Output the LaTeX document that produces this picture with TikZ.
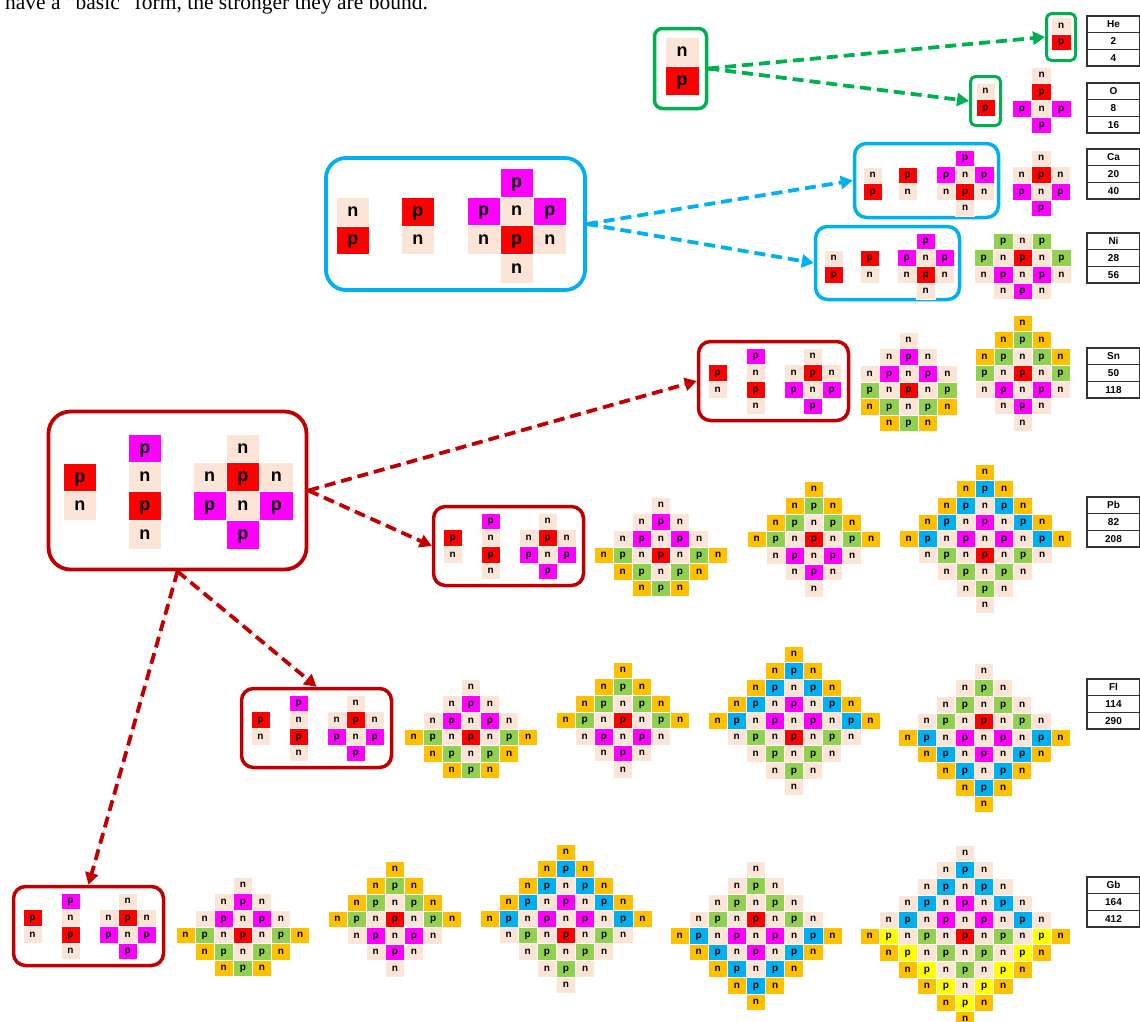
\documentclass[tikz,border=0pt]{standalone}
\usepackage{fontspec}
\setmainfont{Liberation Sans}
\newfontfamily\serifti{Liberation Serif}
\usetikzlibrary{arrows.meta}

\definecolor{peach}{HTML}{FCE4D6}
\definecolor{pred}{HTML}{FF0000}
\definecolor{pmag}{HTML}{FF00FF}
\definecolor{pgreen}{HTML}{92D050}
\definecolor{norange}{HTML}{FFC000}
\definecolor{pblue}{HTML}{00B0F0}
\definecolor{pyellow}{HTML}{FFFF00}
\definecolor{ggreen}{HTML}{00B050}
\definecolor{ccyan}{HTML}{00B0F0}
\definecolor{dred}{HTML}{C00000}

\def\cfN{peach}\def\ctN{n}
\def\cfR{pred}\def\ctR{p}
\def\cfM{pmag}\def\ctM{p}
\def\cfG{pgreen}\def\ctG{p}
\def\cfO{norange}\def\ctO{n}
\def\cfB{pblue}\def\ctB{p}
\def\cfY{pyellow}\def\ctY{p}

% patterns
\def\pNR{{N},{R}}
\def\pRN{{R},{N}}
\def\pMNRN{{M},{N},{R},{N}}
\def\pO{{x,N,x},{x,R,x},{M,N,M},{x,M,x}}
\def\pCa{{x,N,x},{N,R,N},{M,N,M},{x,M,x}}
\def\pCplus{{x,M,x},{M,N,M},{N,R,N},{x,N,x}}
\def\pNi{{x,G,N,G,x},{G,N,R,N,G},{N,M,N,M,N},{x,N,M,N,x}}
\def\pSnA{{x,x,N,x,x},{x,N,M,N,x},{N,M,N,M,N},{G,N,R,N,G},{O,G,N,G,O},{x,O,G,O,x}}
\def\pSnB{{x,x,O,x,x},{x,O,G,O,x},{O,G,N,G,O},{G,N,R,N,G},{N,M,N,M,N},{x,N,M,N,x},{x,x,N,x,x}}
\def\pA{{x,x,x,N,x,x,x},{x,x,N,M,N,x,x},{x,N,M,N,M,N,x},{O,G,N,R,N,G,O},{x,O,G,N,G,O,x},{x,x,O,G,O,x,x}}
\def\pB{{x,x,x,O,x,x,x},{x,x,O,G,O,x,x},{x,O,G,N,G,O,x},{O,G,N,R,N,G,O},{x,N,M,N,M,N,x},{x,x,N,M,N,x,x},{x,x,x,N,x,x,x}}
\def\pC{{x,x,x,x,O,x,x,x,x},{x,x,x,O,B,O,x,x,x},{x,x,O,B,N,B,O,x,x},{x,O,B,N,M,N,B,O,x},{O,B,N,M,N,M,N,B,O},{x,N,G,N,R,N,G,N,x},{x,x,N,G,N,G,N,x,x},{x,x,x,N,G,N,x,x,x},{x,x,x,x,N,x,x,x,x}}
\def\pD{{x,x,x,x,N,x,x,x,x},{x,x,x,N,G,N,x,x,x},{x,x,N,G,N,G,N,x,x},{x,N,G,N,R,N,G,N,x},{O,B,N,M,N,M,N,B,O},{x,O,B,N,M,N,B,O,x},{x,x,O,B,N,B,O,x,x},{x,x,x,O,B,O,x,x,x},{x,x,x,x,O,x,x,x,x}}
\def\pE{{x,x,x,x,x,N,x,x,x,x,x},{x,x,x,x,N,B,N,x,x,x,x},{x,x,x,N,B,N,B,N,x,x,x},{x,x,N,B,N,M,N,B,N,x,x},{x,N,B,N,M,N,M,N,B,N,x},{O,Y,N,G,N,R,N,G,N,Y,O},{x,O,Y,N,G,N,G,N,Y,O,x},{x,x,O,Y,N,G,N,Y,O,x,x},{x,x,x,O,Y,N,Y,O,x,x,x},{x,x,x,x,O,Y,O,x,x,x,x},{x,x,x,x,x,O,x,x,x,x,x}}

% grid: name, x0, y0, w, h, style, pattern
\newcommand{\grid}[7]{%
  \foreach \row [count=\r from 0] in #7 {%
    \foreach \c [count=\i from 0] in \row {%
      \if\c x\relax\else
        \edef\fillc{\csname cf\c\endcsname}%
        \edef\txtc{\csname ct\c\endcsname}%
        \node[cell,#6,minimum width=#4,minimum height=#5,fill=\fillc] (#1-\r-\i) at ({#2+(\i+0.5)*#4},{#3+(\r+0.5)*#5}) {\txtc};%
      \fi
    }}}

\newcommand{\redsmall}[3]{%
  \node[rbox, minimum width=150, minimum height=79, rounded corners=12] (#1) at (#2+76.5,#3+41) {};
  \grid{#1a}{#2+11}{#3+24.6}{19.1}{16.6}{small}{\pRN}
  \grid{#1b}{#2+49}{#3+8}{19.1}{16.6}{small}{\pMNRN}
  \grid{#1c}{#2+87}{#3+8}{19.1}{16.6}{small}{\pCa}
}

\newcommand{\eltable}[5]{%
  \node[tcell] (#1-s) at (1113.5,#2+8.35) {#3};
  \node[tcell] (#1-z) at (1113.5,#2+25.05) {#4};
  \node[tcell] (#1-a) at (1113.5,#2+41.75) {#5};
}

\begin{document}
\begin{tikzpicture}[x=1pt,y=-1pt,
  cell/.style={rectangle, inner sep=0pt, outer sep=0pt, draw=white, line width=0.5pt, text=black},
  small/.style={font=\bfseries\fontsize{10}{10}\selectfont, text height=6pt, text depth=0.8pt},
  big/.style={font=\bfseries\fontsize{18}{18}\selectfont, text height=10.8pt, text depth=1.4pt},
  boxbase/.style={rectangle, inner sep=0pt, fill=none},
  gbox/.style={boxbase, draw=ggreen, line width=3.5pt},
  cbox/.style={boxbase, draw=ccyan, line width=3.8pt},
  rbox/.style={boxbase, draw=dred, line width=3.5pt},
  tcell/.style={rectangle, draw=black!80, line width=1.3pt, fill=white, minimum width=53, minimum height=16.7, inner sep=0pt, font=\bfseries\fontsize{10}{10}\selectfont, text height=7.2pt, text depth=0pt},
  arr/.style={line width=3.8pt, dash pattern=on 11pt off 6pt, -{Triangle[length=12pt,width=13pt]}},
  garr/.style={arr, draw=ggreen, fill=ggreen},
  carr/.style={arr, draw=ccyan, fill=ccyan},
  rarr/.style={arr, draw=dred, fill=dred}
]
\useasboundingbox (0,0) rectangle (1140,1021);
\clip (0,0) rectangle (1140,1021);

\node[anchor=base west, inner sep=0pt, font=\serifti\fontsize{21.5}{24}\selectfont] (intro) at (5,9.5) {have a “basic” form, the stronger they are bound.};

% ---------- green ----------
\node[gbox, minimum width=52, minimum height=80, rounded corners=8] (gbig) at (680.5,68.5) {};
\grid{gg}{665}{37}{34}{29}{big}{\pNR}
\node[gbox, line width=3pt, minimum width=29, minimum height=47, rounded corners=5] (hebox) at (1061,37) {};
\grid{he}{1051.5}{17}{19.5}{16.8}{small}{\pNR}
\node[gbox, line width=3pt, minimum width=30, minimum height=49, rounded corners=5] (obox) at (985.5,101) {};
\grid{oo}{976}{83}{18.8}{16.5}{small}{\pNR}
\grid{op}{1012}{67}{19.7}{16.6}{small}{\pO}

% ---------- cyan ----------
\node[cbox, minimum width=259, minimum height=132, rounded corners=20] (cbig) at (455.5,224) {};
\grid{cb1}{336}{197}{33.5}{28.8}{big}{\pNR}
\grid{cb2}{401}{197}{33.5}{28.8}{big}{\pRN}
\grid{cb3}{467}{168}{33.1}{28.8}{big}{\pCplus}

\node[cbox, line width=3.5pt, minimum width=144, minimum height=74, rounded corners=12] (cup) at (926.5,180.5) {};
\grid{cu1}{863}{167}{19.1}{16.6}{small}{\pNR}
\grid{cu2}{898}{167}{19.1}{16.6}{small}{\pRN}
\grid{cu3}{936.5}{150}{19.1}{16.6}{small}{\pCplus}
\grid{ca}{1012}{150}{19.4}{16.6}{small}{\pCa}

\node[cbox, line width=3.5pt, minimum width=144, minimum height=73, rounded corners=12] (clow) at (887.5,263) {};
\grid{cl1}{824}{250}{19.1}{16.6}{small}{\pNR}
\grid{cl2}{860}{250}{19.1}{16.6}{small}{\pRN}
\grid{cl3}{897}{233}{19.1}{16.6}{small}{\pCplus}
\grid{ni}{974}{233}{19.4}{16.6}{small}{\pNi}

% ---------- red ----------
\node[rbox, line width=3.8pt, minimum width=258, minimum height=158, rounded corners=22] (rbig) at (177.5,490.5) {};
\grid{rb1}{63}{463}{33.5}{28.7}{big}{\pRN}
\grid{rb2}{128}{434}{33.5}{28.7}{big}{\pMNRN}
\grid{rb3}{193}{434}{33.3}{28.7}{big}{\pCa}

\redsmall{rsn}{697}{340}
\grid{sna}{860}{332}{19.4}{16.6}{small}{\pSnA}
\grid{snb}{975}{315}{19}{16.6}{small}{\pSnB}

\redsmall{rpb}{432}{505}
\grid{pba}{594}{497}{19.1}{16.6}{small}{\pA}
\grid{pbb}{747}{481}{19.1}{16.6}{small}{\pB}
\grid{pbc}{899}{464}{19.1}{16.6}{small}{\pC}

\redsmall{rfl}{240}{687}
\grid{fla}{404}{679}{19.1}{16.6}{small}{\pA}
\grid{flb}{556}{662}{19.1}{16.6}{small}{\pB}
\grid{flc}{708}{646}{19.1}{16.6}{small}{\pC}
\grid{fld}{898}{663}{19.1}{16.6}{small}{\pD}

\redsmall{rgb}{12}{885}
\grid{gba}{176}{877}{19.1}{16.6}{small}{\pA}
\grid{gbb}{328}{861}{19.1}{16.6}{small}{\pB}
\grid{gbc}{480}{844}{19.1}{16.6}{small}{\pC}
\grid{gbd}{670}{861}{19.1}{16.6}{small}{\pD}
\grid{gbe}{860}{845}{19.1}{16.6}{small}{\pE}

% ---------- tables ----------
\eltable{tHe}{16}{He}{2}{4}
\eltable{tO}{83}{O}{8}{16}
\eltable{tCa}{149}{Ca}{20}{40}
\eltable{tNi}{233}{Ni}{28}{56}
\eltable{tSn}{348}{Sn}{50}{118}
\eltable{tPb}{497}{Pb}{82}{208}
\eltable{tFl}{679}{Fl}{114}{290}
\eltable{tGb}{877}{Gb}{164}{412}

% ---------- arrows ----------
\draw[garr] (gbig.east) -- (hebox.west);
\draw[garr] (gbig.east) -- (obox.west);
\draw[carr] (cbig.east) -- (cup.west);
\draw[carr] (cbig.east) -- (clow.west);
\draw[rarr] (rbig.east) -- (rsn.west);
\draw[rarr] (rbig.east) -- (rpb.west);
\draw[rarr] (rbig.south) -- (rfl.north);
\draw[rarr] (rbig.south) -- (rgb.north);
\end{tikzpicture}
\end{document}
